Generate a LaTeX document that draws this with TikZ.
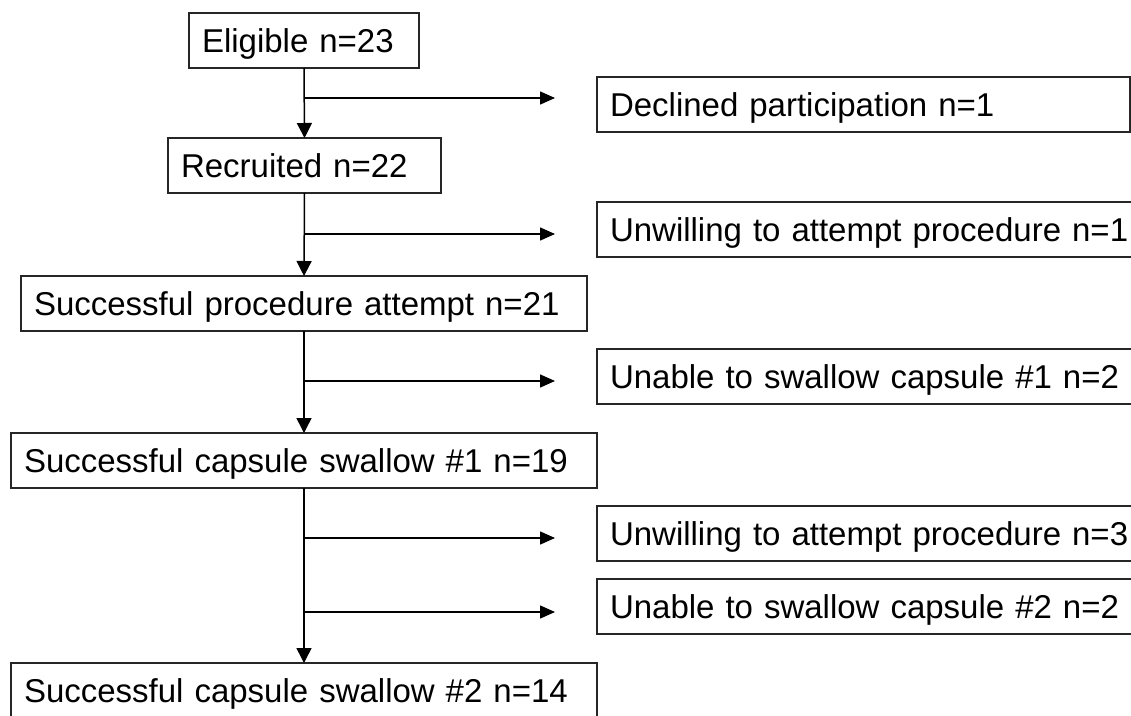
\documentclass[tikz,border=0pt]{standalone}
\usepackage{fontspec}
\setmainfont{Liberation Sans}
\usetikzlibrary{arrows.meta}
\begin{document}
\begin{tikzpicture}[x=1pt,y=-1pt,
  box/.style={draw=black!85, line width=1.5pt, anchor=north west, outer sep=0pt,
    inner xsep=13pt, inner ysep=0pt, minimum height=55pt,
    text height=23.5pt, text depth=0pt, align=left,
    font=\fontsize{33}{40}\selectfont},
  arr/.style={line width=1.5pt, -{Triangle[length=15pt,width=15pt]}},
  branch/.style={line width=1.5pt, -{Triangle[length=15pt,width=13pt]}}]
\useasboundingbox (0,0) rectangle (1131,715);
\clip (0,0) rectangle (1131,715);
% main column
\node[box, minimum width=230pt, text width=204pt] (elig) at (189,13) {Eligible n=23};
\node[box, minimum width=273pt, text width=247pt] (recr) at (168,138) {Recruited n=22};
\node[box, minimum width=566pt, text width=540pt] (spa) at (21,276) {Successful procedure attempt n=21};
\node[box, minimum width=586pt, text width=560pt] (scs1) at (11,433) {Successful capsule swallow \#1 n=19};
\node[box, minimum width=586pt, text width=560pt, minimum height=70pt] (scs2) at (11,663) {\raisebox{7.5pt}{Successful capsule swallow \#2 n=14}};
% side boxes
\node[box, minimum width=533pt, text width=507pt] (decl) at (597,77) {Declined participation n=1};
\node[box, minimum width=600pt, text width=574pt] (unw1) at (597,202) {Unwilling to attempt procedure n=1};
\node[box, minimum width=600pt, text width=574pt] (una1) at (597,349) {Unable to swallow capsule \#1 n=2};
\node[box, minimum width=600pt, text width=574pt] (unw3) at (597,506) {Unwilling to attempt procedure n=3};
\node[box, minimum width=600pt, text width=574pt] (una2) at (597,579) {Unable to swallow capsule \#2 n=2};
% trunk
\draw[arr] (elig.south) -- (recr.north);
\draw[arr] (recr.south) -- (spa.north);
\draw[arr] (spa.south) -- (scs1.north);
\draw[arr] (scs1.south) -- (scs2.north);
% branches
\coordinate (b1) at (304,98);  \coordinate (e1) at (555,98);
\coordinate (b2) at (304,234); \coordinate (e2) at (555,234);
\coordinate (b3) at (304,381); \coordinate (e3) at (555,381);
\coordinate (b4) at (304,538); \coordinate (e4) at (555,538);
\coordinate (b5) at (304,612); \coordinate (e5) at (555,612);
\draw[branch] (b1) -- (e1);
\draw[branch] (b2) -- (e2);
\draw[branch] (b3) -- (e3);
\draw[branch] (b4) -- (e4);
\draw[branch] (b5) -- (e5);
\end{tikzpicture}
\end{document}
